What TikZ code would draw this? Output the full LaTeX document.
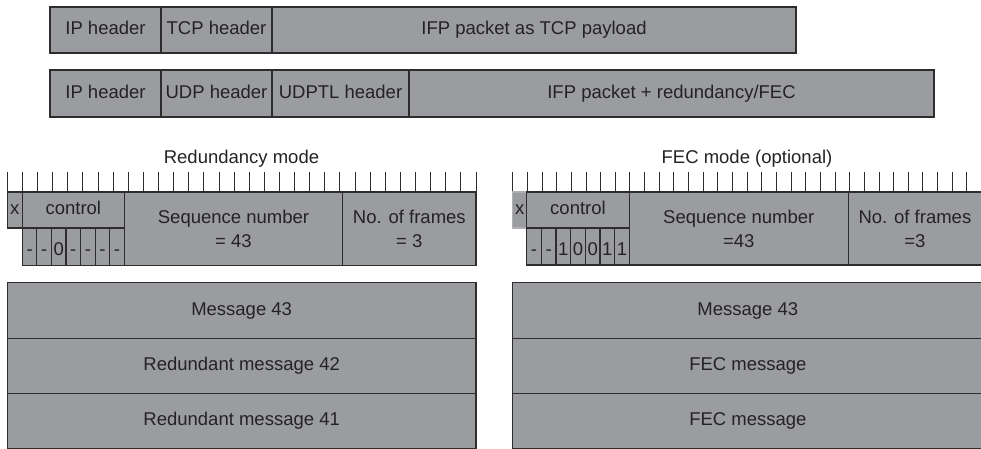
\documentclass[tikz,border=0pt]{standalone}
\usepackage{fontspec}
\setmainfont{Liberation Sans}
\definecolor{cellgray}{RGB}{155,156,160}
\definecolor{edge}{RGB}{45,45,45}
\definecolor{ink}{RGB}{35,35,35}
\tikzset{
  basecell/.style={draw=edge, fill=cellgray, line width=1.2pt, inner sep=0pt, outer sep=0pt,
    anchor=north west, text=ink, font=\fontsize{18.5}{24}\selectfont},
  cell/.style={basecell, text height=13.3pt, text depth=3.9pt},
  bitcell/.style={basecell, text height=18pt, text depth=0pt},
  twoline/.style={basecell, align=center},
  lightcell/.style={cell, draw=cellgray!80!white},
  tick/.style={draw=edge, line width=0.9pt},
  title/.style={text=ink, font=\fontsize{18.5}{24}\selectfont, inner sep=0pt,
    text height=13.3pt, text depth=3.9pt}
}
% #1 name, #2 x1, #3 y1, #4 x2, #5 y2, #6 style, #7 text
\newcommand\pktcell[7]{%
  \pgfmathsetmacro\cellw{#4-#2}%
  \pgfmathsetmacro\cellh{#5-#3}%
  \node[#6, minimum width=\cellw pt, minimum height=\cellh pt] (#1) at (#2,#3) {#7};}
\begin{document}
\begin{tikzpicture}[x=1pt,y=-1pt]
\useasboundingbox (0,0) rectangle (981,449);
\clip (0,0) rectangle (981,449);

% TCP packet
\pktcell{tip}{50}{7}{161}{53}{cell}{IP header}
\pktcell{ttcp}{161}{7}{272}{53}{cell}{TCP header}
\pktcell{tpay}{272}{7}{796}{53}{cell}{IFP packet as TCP payload}

% UDP packet
\pktcell{uip}{50}{70}{161}{117}{cell}{IP header}
\pktcell{uudp}{161}{70}{272}{117}{cell}{UDP header}
\pktcell{uudptl}{272}{70}{409}{117}{cell}{UDPTL header}
\pktcell{upay}{409}{70}{934}{117}{cell}{IFP packet + redundancy/FEC}

% Redundancy mode
\node[title] (rtitle) at (241.5,158.5) {Redundancy mode};
\foreach \i in {0,...,31} \draw[tick] ({7.3+\i*15.12},172) -- ++(0,20);
\pktcell{rx}{7.3}{192}{22.3}{228}{cell}{x}
\pktcell{rctl}{22.3}{192}{124.3}{228}{cell}{control}
\foreach \t [count=\j from 0, evaluate=\j as \xa using 22.3+\j*14.57,
             evaluate=\j as \xb using 22.3+(\j+1)*14.57] in {-,-,0,-,-,-,-}
  {\pktcell{rb\j}{\xa}{228}{\xb}{265.5}{bitcell}{\t}}
\pktcell{rseq}{124.3}{192}{342.7}{265.5}{twoline}{Sequence number\\= 43}
\pktcell{rnof}{342.7}{192}{476}{265.5}{twoline}{No. of frames\\= 3}
\pktcell{rm1}{7.3}{282.7}{476}{338.3}{cell}{Message 43}
\pktcell{rm2}{7.3}{338.3}{476}{393.3}{cell}{Redundant message 42}
\pktcell{rm3}{7.3}{393.3}{476}{448.3}{cell}{Redundant message 41}

% FEC mode
\node[title] (ftitle) at (747,158.5) {FEC mode (optional)};
\foreach \i in {0,...,31} \draw[tick] ({512.7+\i*14.65},172) -- ++(0,20);
\pktcell{fx}{512.7}{192}{526.7}{228}{lightcell}{x}
\pktcell{fctl}{526.7}{192}{629.3}{228}{cell}{control}
\foreach \t [count=\j from 0, evaluate=\j as \xa using 526.7+\j*14.66,
             evaluate=\j as \xb using 526.7+(\j+1)*14.66] in {-,-,1,0,0,1,1}
  {\pktcell{fb\j}{\xa}{228}{\xb}{265}{bitcell}{\t}}
\pktcell{fseq}{629.3}{192}{848.3}{265}{twoline}{Sequence number\\=43}
\pktcell{fnof}{848.3}{192}{981.5}{265}{twoline}{No. of frames\\=3}
\pktcell{fm1}{512.7}{282.7}{983}{338.3}{cell}{Message 43}
\pktcell{fm2}{512.7}{338.3}{983}{393.3}{cell}{FEC message}
\pktcell{fm3}{512.7}{393.3}{983}{448.3}{cell}{FEC message}
\end{tikzpicture}
\end{document}
